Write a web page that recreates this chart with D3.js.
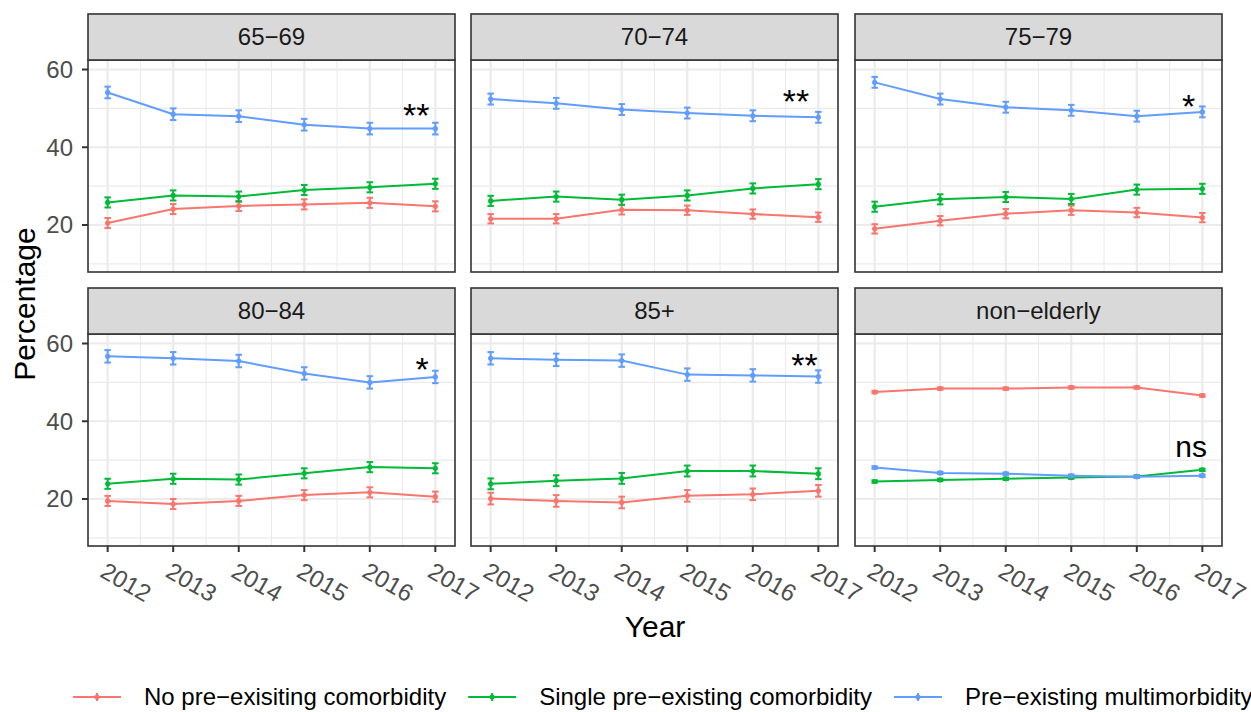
<!DOCTYPE html>
<html>
<head>
<meta charset="utf-8">
<script src="https://cdn.jsdelivr.net/npm/d3@7"></script>
<style>
  body { margin: 0; background: #fff; }
  svg { display: block; font-family: "Liberation Sans", Arial, Helvetica, sans-serif; }
</style>
</head>
<body>
<svg width="1251" height="712"></svg>
<script>
// data
var years = [2012, 2013, 2014, 2015, 2016, 2017];
var facets = ["65−69", "70−74", "75−79", "80−84", "85+", "non−elderly"];
var seriesNames = ["No pre−exisiting comorbidity", "Single pre−existing comorbidity", "Pre−existing multimorbidity"];
var colors = ["#F8766D", "#00BA38", "#619CFF"];

// one row per facet, one value per year
var noComorb = [
    [20.5, 24.1, 24.9, 25.3, 25.7, 24.8],
    [21.6, 21.6, 23.9, 23.8, 22.8, 22.0],
    [19.0, 21.1, 22.9, 23.8, 23.2, 21.9],
    [19.5, 18.7, 19.5, 21.0, 21.7, 20.6],
    [20.1, 19.5, 19.1, 20.8, 21.2, 22.1],
    [47.5, 48.4, 48.4, 48.7, 48.7, 46.6]
];
var singleComorb = [
    [25.8, 27.6, 27.3, 29.0, 29.7, 30.6],
    [26.2, 27.3, 26.5, 27.6, 29.4, 30.5],
    [24.7, 26.6, 27.2, 26.7, 29.1, 29.3],
    [23.9, 25.2, 25.0, 26.6, 28.2, 27.9],
    [23.9, 24.7, 25.3, 27.2, 27.2, 26.5],
    [24.5, 24.9, 25.2, 25.5, 25.8, 27.5]
];
var multimorb = [
    [54.1, 48.5, 48.0, 45.8, 44.8, 44.8],
    [52.4, 51.3, 49.7, 48.8, 48.1, 47.7],
    [56.7, 52.4, 50.3, 49.5, 48.0, 49.1],
    [56.7, 56.2, 55.5, 52.3, 50.0, 51.4],
    [56.2, 55.8, 55.6, 52.0, 51.8, 51.5],
    [28.1, 26.7, 26.5, 26.0, 25.7, 26.0]
];
// error bar half widths, per facet and series
var errHalf = [
    [1.3, 1.3, 1.5],
    [1.2, 1.3, 1.4],
    [1.2, 1.3, 1.4],
    [1.3, 1.3, 1.6],
    [1.5, 1.4, 1.6],
    [0.3, 0.3, 0.3]
];
// significance labels
var annoText = ["**", "**", "*", "*", "**", "ns"];
var annoX = [2016.71, 2016.66, 2016.79, 2016.8, 2016.79, 2016.83];
var annoY = [48.4, 51.9, 50.6, 53.4, 54.4, 33.5];

var yTicks = [20, 40, 60];
var yMinor = [10, 30, 50];
var xMinor = [2012.5, 2013.5, 2014.5, 2015.5, 2016.5];

var allSeries = [noComorb, singleComorb, multimorb];

var svg = d3.select("svg");

var colX = [88, 471, 855],
    rowY = [60, 334],
    panelW = 367,
    panelH = 212,
    stripH = 46;

facets.forEach(function(name, fi) {
    var col = fi % 3, row = Math.floor(fi / 3);
    var x0 = colX[col], y0 = rowY[row];

    var x = d3.scaleLinear().domain([2011.7, 2017.3]).range([x0, x0 + panelW]);
    var y = d3.scaleLinear().domain([7.9, 62.45]).range([y0 + panelH, y0]);

    var g = svg.append("g");

    // grid
    g.selectAll(".yminor").data(yMinor).enter().append("line")
        .attr("x1", x0).attr("x2", x0 + panelW)
        .attr("y1", function(d) { return y(d); })
        .attr("y2", function(d) { return y(d); })
        .attr("stroke", "#EBEBEB").attr("stroke-width", 1.1);
    g.selectAll(".xminor").data(xMinor).enter().append("line")
        .attr("y1", y0).attr("y2", y0 + panelH)
        .attr("x1", function(d) { return x(d); })
        .attr("x2", function(d) { return x(d); })
        .attr("stroke", "#EBEBEB").attr("stroke-width", 1.1);
    g.selectAll(".ymajor").data(yTicks).enter().append("line")
        .attr("x1", x0).attr("x2", x0 + panelW)
        .attr("y1", function(d) { return y(d); })
        .attr("y2", function(d) { return y(d); })
        .attr("stroke", "#EBEBEB").attr("stroke-width", 2.2);
    g.selectAll(".xmajor").data(years).enter().append("line")
        .attr("y1", y0).attr("y2", y0 + panelH)
        .attr("x1", function(d) { return x(d); })
        .attr("x2", function(d) { return x(d); })
        .attr("stroke", "#EBEBEB").attr("stroke-width", 2.2);

    // series
    var line = d3.line()
        .x(function(d, i) { return x(years[i]); })
        .y(function(d) { return y(d); });

    allSeries.forEach(function(s, si) {
        var vals = s[fi];
        var e = errHalf[fi][si];
        var sg = g.append("g");
        sg.append("path")
            .datum(vals)
            .attr("d", line)
            .attr("fill", "none")
            .attr("stroke", colors[si])
            .attr("stroke-width", 2);
        var cap = x(2012.05) - x(2012);
        var eb = sg.selectAll(".eb").data(vals).enter().append("g");
        eb.append("line")
            .attr("x1", function(d, i) { return x(years[i]); })
            .attr("x2", function(d, i) { return x(years[i]); })
            .attr("y1", function(d) { return y(d - e); })
            .attr("y2", function(d) { return y(d + e); })
            .attr("stroke", colors[si]).attr("stroke-width", 2);
        [-1, 1].forEach(function(sgn) {
            eb.append("line")
                .attr("x1", function(d, i) { return x(years[i]) - cap; })
                .attr("x2", function(d, i) { return x(years[i]) + cap; })
                .attr("y1", function(d) { return y(d + sgn * e); })
                .attr("y2", function(d) { return y(d + sgn * e); })
                .attr("stroke", colors[si]).attr("stroke-width", 2);
        });
        eb.append("circle")
            .attr("cx", function(d, i) { return x(years[i]); })
            .attr("cy", function(d) { return y(d); })
            .attr("r", 2.6)
            .attr("fill", colors[si]);
    });

    // annotation
    g.append("text")
        .attr("x", x(annoX[fi]))
        .attr("y", y(annoY[fi]))
        .attr("dy", "0.35em")
        .attr("text-anchor", "middle")
        .style("font-size", annoText[fi] === "ns" ? "30px" : "34px")
        .style("fill", "#000")
        .text(annoText[fi]);

    // panel border
    g.append("rect")
        .attr("x", x0).attr("y", y0)
        .attr("width", panelW).attr("height", panelH)
        .attr("fill", "none")
        .attr("stroke", "#333333").attr("stroke-width", 1.6);

    // strip
    g.append("rect")
        .attr("x", x0).attr("y", y0 - stripH)
        .attr("width", panelW).attr("height", stripH)
        .attr("fill", "#D9D9D9")
        .attr("stroke", "#333333").attr("stroke-width", 1.6);
    g.append("text")
        .attr("x", x0 + panelW / 2)
        .attr("y", y0 - stripH / 2)
        .attr("dy", "0.35em")
        .attr("text-anchor", "middle")
        .style("font-size", "24px")
        .style("fill", "#1A1A1A")
        .text(name);

    // y axis on the left column
    if (col === 0) {
        g.selectAll(".ytick").data(yTicks).enter().append("line")
            .attr("x1", x0 - 6).attr("x2", x0)
            .attr("y1", function(d) { return y(d); })
            .attr("y2", function(d) { return y(d); })
            .attr("stroke", "#333333").attr("stroke-width", 2);
        g.selectAll(".ylab").data(yTicks).enter().append("text")
            .attr("x", x0 - 15)
            .attr("y", function(d) { return y(d); })
            .attr("dy", "0.35em")
            .attr("text-anchor", "end")
            .style("font-size", "24px")
            .style("fill", "#4D4D4D")
            .text(function(d) { return d; });
    }

    // x axis on the bottom row
    if (row === 1) {
        var yb = y0 + panelH;
        g.selectAll(".xtick").data(years).enter().append("line")
            .attr("x1", function(d) { return x(d); })
            .attr("x2", function(d) { return x(d); })
            .attr("y1", yb).attr("y2", yb + 6)
            .attr("stroke", "#333333").attr("stroke-width", 2);
        g.selectAll(".xlab").data(years).enter().append("text")
            .attr("transform", function(d) {
                return "translate(" + (x(d) - 9) + "," + (yb + 30) + ") rotate(30)";
            })
            .attr("text-anchor", "start")
            .style("font-size", "24px")
            .style("fill", "#4D4D4D")
            .text(function(d) { return d; });
    }
});

// axis titles
svg.append("text")
    .attr("x", (colX[0] + colX[2] + panelW) / 2)
    .attr("y", 637)
    .attr("text-anchor", "middle")
    .style("font-size", "30px")
    .style("fill", "#000")
    .text("Year");

svg.append("text")
    .attr("transform", "translate(35,304) rotate(-90)")
    .attr("text-anchor", "middle")
    .style("font-size", "30px")
    .style("fill", "#000")
    .text("Percentage");

// legend
var legY = 697;
var legX = 73;
seriesNames.forEach(function(name, si) {
    var lg = svg.append("g");
    lg.append("line")
        .attr("x1", legX).attr("x2", legX + 48)
        .attr("y1", legY).attr("y2", legY)
        .attr("stroke", colors[si]).attr("stroke-width", 2);
    lg.append("line")
        .attr("x1", legX + 24).attr("x2", legX + 24)
        .attr("y1", legY - 4).attr("y2", legY + 4)
        .attr("stroke", colors[si]).attr("stroke-width", 2);
    lg.append("circle")
        .attr("cx", legX + 24).attr("cy", legY)
        .attr("r", 2.6).attr("fill", colors[si]);
    var t = lg.append("text")
        .attr("x", legX + 71)
        .attr("y", legY)
        .attr("dy", "0.35em")
        .style("font-size", "24px")
        .style("fill", "#000")
        .text(name);
    legX = legX + 71 + t.node().getComputedTextLength() + 22;
});
</script>
</body>
</html>
